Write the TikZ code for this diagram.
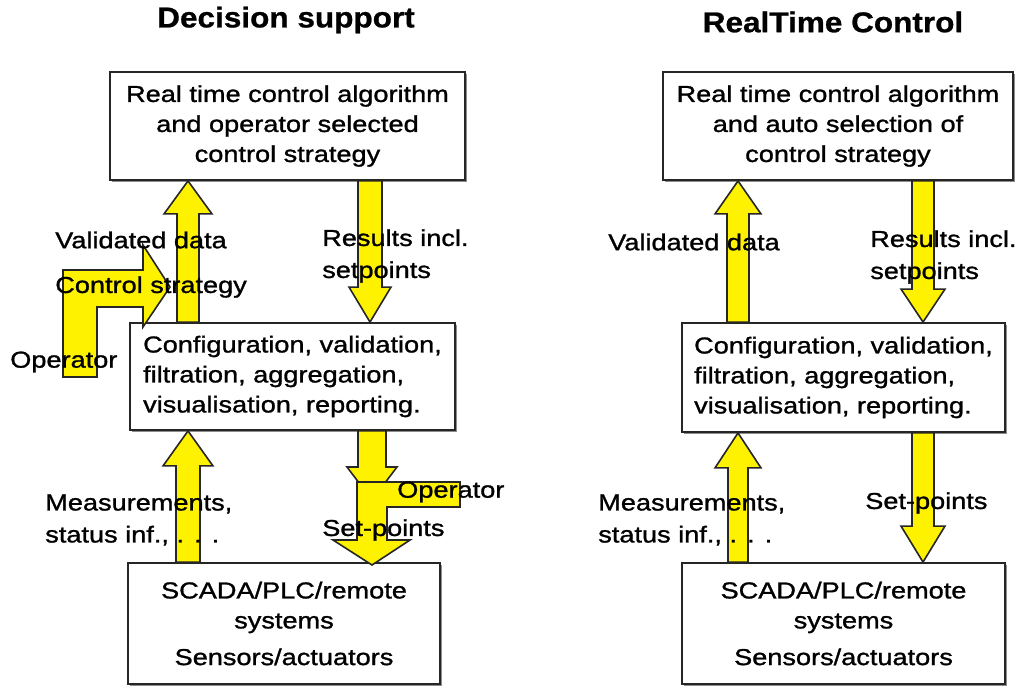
\documentclass[tikz,border=0pt]{standalone}
\usepackage{fontspec}
\setmainfont{Liberation Sans}[FakeStretch=1.18, FakeBold=1.2]
\newfontfamily\titlefont{Liberation Sans}[FakeStretch=1.1, FakeBold=0.8]
\usetikzlibrary{calc,shadows}

% block arrows: #1 tail point, #2 tip point, #3 shaft half width,
% #4 head half width, #5 head length (all in px)
\newcommand\blockup[5]{%
  \draw[blockarrow] let \p1=(#1), \p2=(#2) in
    (\x1-#3*0.75pt,\y1) -- (\x1-#3*0.75pt,\y2-#5*0.75pt) -- (\x1-#4*0.75pt,\y2-#5*0.75pt)
    -- (\x1,\y2) -- (\x1+#4*0.75pt,\y2-#5*0.75pt) -- (\x1+#3*0.75pt,\y2-#5*0.75pt)
    -- (\x1+#3*0.75pt,\y1) -- cycle;}
\newcommand\blockdown[5]{%
  \draw[blockarrow] let \p1=(#1), \p2=(#2) in
    (\x1-#3*0.75pt,\y1) -- (\x1-#3*0.75pt,\y2+#5*0.75pt) -- (\x1-#4*0.75pt,\y2+#5*0.75pt)
    -- (\x1,\y2) -- (\x1+#4*0.75pt,\y2+#5*0.75pt) -- (\x1+#3*0.75pt,\y2+#5*0.75pt)
    -- (\x1+#3*0.75pt,\y1) -- cycle;}

\begin{document}
\begin{tikzpicture}[x=0.75pt,y=-0.75pt,
  box/.style={draw=black!85, line width=1.4pt, fill=white, inner sep=0pt,
    font=\fontsize{17.25}{22.5}\selectfont,
    drop shadow={shadow xshift=1.4pt, shadow yshift=-1.4pt, fill=black!45, opacity=1}},
  lbl/.style={inner sep=0pt, align=left, font=\fontsize{17.25}{24}\selectfont},
  heading/.style={inner sep=0pt, font=\titlefont\bfseries\fontsize{21.5}{26}\selectfont},
  blockarrow/.style={fill=yellow, draw=black!85, line width=1.2pt, line join=miter},
  opshape/.style={fill=yellow, draw=black!85, line width=1.2pt, line join=miter}]

\fill[white] (0,0) rectangle (1021,689);
\useasboundingbox (0,0) rectangle (1021,689);

% column positions of the arrows
\coordinate (xLu) at (188,0);
\coordinate (xLd) at (370,0);
\coordinate (xLd2) at (372,0);
\coordinate (xRu) at (738,0);
\coordinate (xRd) at (923,0);

% ---------------- Decision support ----------------
\node[heading] (tL) at (286,20) {Decision support};

\node[box, minimum width=266.25pt, minimum height=81pt, align=center] (topL) at (287.5,126)
  {Real time control algorithm\\ and operator selected\\ control strategy};
\node[box, minimum width=243.75pt, minimum height=80.25pt, align=left] (midL) at (292.5,376.5)
  {Configuration, validation,\\ filtration, aggregation,\\ visualisation, reporting.};
\node[box, minimum width=234pt, minimum height=90.75pt, align=center] (botL) at (284,623.5)
  {SCADA/PLC/remote\\ systems\\[5pt] Sensors/actuators};

\blockup{midL.north -| xLu}{topL.south -| xLu}{11}{24}{33}
\blockdown{topL.south -| xLd}{midL.north -| xLd}{12}{21}{35}
\blockup{botL.north -| xLu}{midL.south -| xLu}{12}{25}{35}
\coordinate (hidL) at (372,500);
\blockdown{midL.south -| xLd2}{hidL}{14}{25}{33}

% operator input into the control strategy
\draw[opshape] (97,377) -- (63,377) -- (63,270) -- (143,270) -- (143,245) -- (170,287)
  -- (143,327) -- (143,307) -- (97,307) -- cycle;
% operator input into the set-points
\draw[opshape] (357,482) -- (460,482) -- (460,507) -- (387,507) -- (387,540) -- (410,540)
  -- (372,565) -- (333,540) -- (357,540) -- cycle;

\node[lbl, anchor=west] (vdL) at (55,240) {Validated data};
\node[lbl, anchor=west] (riL) at (322,256) {Results incl.\\ setpoints};
\node[lbl, anchor=west] (csL) at (55,287) {Control strategy};
\node[lbl, anchor=west] (opL) at (10,362) {Operator};
\node[lbl, anchor=west] (msL) at (45,520) {Measurements,\\ status inf., . . .};
\node[lbl, anchor=west] (spL) at (322,530) {Set-points};
\node[lbl, anchor=west] (opB) at (397,492) {Operator};

% ---------------- RealTime Control ----------------
\node[heading] (tR) at (833,22) {RealTime Control};

\node[box, minimum width=262.5pt, minimum height=81pt, align=center] (topR) at (838,126)
  {Real time control algorithm\\ and auto selection of\\ control strategy};
\node[box, minimum width=242.25pt, minimum height=81.75pt, align=left] (midR) at (843.5,377.5)
  {Configuration, validation,\\ filtration, aggregation,\\ visualisation, reporting.};
\node[box, minimum width=242.25pt, minimum height=90.75pt, align=center] (botR) at (843.5,623.5)
  {SCADA/PLC/remote\\ systems\\[5pt] Sensors/actuators};

\blockup{midR.north -| xRu}{topR.south -| xRu}{11}{23}{33}
\blockdown{topR.south -| xRd}{midR.north -| xRd}{11}{22}{33}
\blockup{botR.north -| xRu}{midR.south -| xRu}{10}{23}{35}
\blockdown{midR.south -| xRd}{botR.north -| xRd}{11}{22}{36}

\node[lbl, anchor=west] (vdR) at (608,242) {Validated data};
\node[lbl, anchor=west] (riR) at (870,257) {Results incl.\\ setpoints};
\node[lbl, anchor=west] (msR) at (598,520) {Measurements,\\ status inf., . . .};
\node[lbl, anchor=west] (spR) at (865,503) {Set-points};

\end{tikzpicture}
\end{document}
